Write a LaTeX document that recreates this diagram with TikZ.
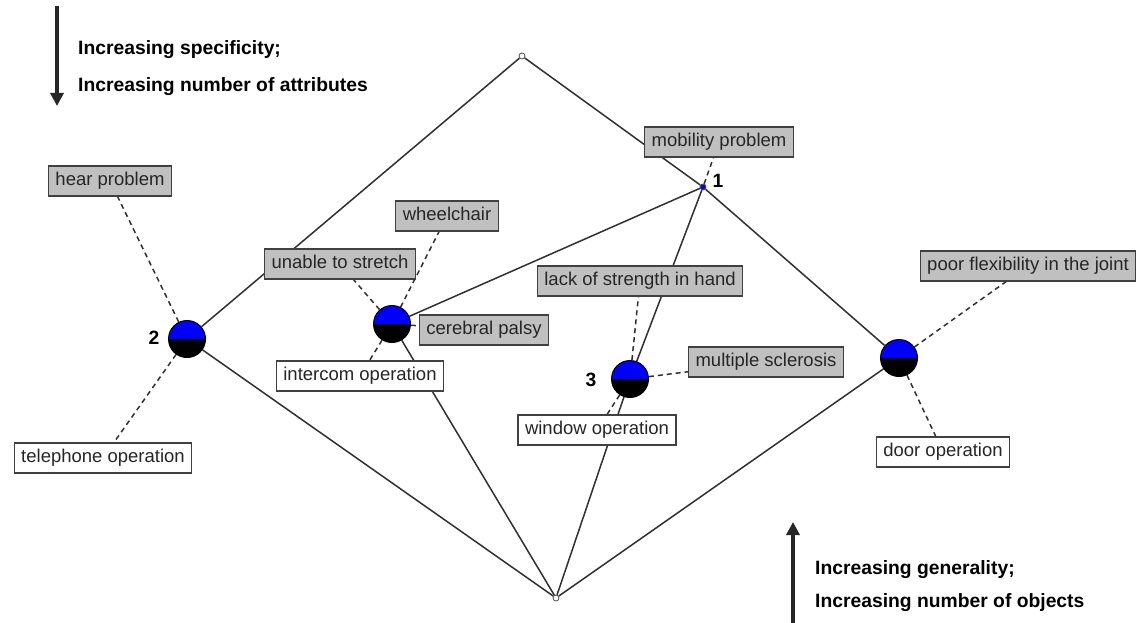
\documentclass[tikz,border=0pt]{standalone}
\usepackage{fontspec}
\setmainfont{Liberation Sans}
\usetikzlibrary{arrows.meta}
\pgfdeclarelayer{background}
\pgfsetlayers{background,main}

\definecolor{boxgray}{RGB}{192,192,192}
\definecolor{edgegray}{RGB}{48,48,48}
\definecolor{conceptblue}{RGB}{0,0,255}

\begin{document}
\begin{tikzpicture}[x=1pt,y=-1pt,
  attr/.style={draw=black!75, fill=boxgray, line width=1.3pt, inner xsep=7pt, inner ysep=0pt,
    minimum height=30pt, text height=13pt, text depth=4pt,
    font=\fontsize{18.5}{20}\selectfont, text=black!85},
  obj/.style={attr, fill=white},
  concept/.style={circle, draw=black, line width=1pt, minimum size=37pt, inner sep=0pt,
    path picture={
      \fill[conceptblue] (path picture bounding box.north west) rectangle (path picture bounding box.east);
      \fill[black] (path picture bounding box.west) rectangle (path picture bounding box.south east);
    }},
  dot/.style={circle, draw=black!70, fill=white, line width=0.8pt, minimum size=6pt, inner sep=0pt},
  edge/.style={draw=edgegray, line width=1.5pt},
  link/.style={draw=edgegray, line width=1.5pt, dash pattern=on 5pt off 4pt},
  caption/.style={anchor=west, font=\bfseries\fontsize{19.3}{22}\selectfont, inner sep=0pt},
  num/.style={font=\bfseries\fontsize{19.3}{22}\selectfont, inner sep=0pt},
  dirarrow/.style={draw=black!85, line width=3.2pt, -{Triangle[length=13pt,width=13pt]}}
]
\useasboundingbox (0,0) rectangle (1141,623);

% lattice concepts
\node[dot] (top) at (522,56) {};
\node[dot] (bot) at (556,598) {};
\node[dot, fill=conceptblue] (c1) at (703,187) {};
\node[concept] (c2) at (187,339) {};
\node[concept] (cp) at (392,324) {};
\node[concept] (c3) at (630,379) {};
\node[concept] (cd) at (899,358) {};

% attribute labels
\node[attr] (mob) at (719,142) {mobility problem};
\node[attr] (hear) at (110,181) {hear problem};
\node[attr] (wheel) at (447,216) {wheelchair};
\node[attr] (stretch) at (340,264) {unable to stretch};
\node[attr] (palsy) at (484,330) {cerebral palsy};
\node[attr] (hand) at (640,281) {lack of strength in hand};
\node[attr] (ms) at (766,362) {multiple sclerosis};
\node[attr] (joint) at (1028,266) {poor flexibility in the joint};

% object labels
\node[obj] (tel) at (103,458) {telephone operation};
\node[obj] (icom) at (360,376) {intercom operation};
\node[obj] (win) at (597,430) {window operation};
\node[obj] (door) at (943,452) {door operation};

% concept numbers
\node[num] (n1) at (718,181) {1};
\node[num] (n2) at (154,338) {2};
\node[num] (n3) at (591,380) {3};

\begin{pgfonlayer}{background}
  \fill[white] (0,0) rectangle (1141,623);
  % lattice edges
  \draw[edge] (top) -- (c2);
  \draw[edge] (top) -- (c1);
  \draw[edge] (c1) -- (cd);
  \draw[edge] (c1) -- (cp);
  \draw[edge] (c1) -- (c3);
  \draw[edge] (c2) -- (bot);
  \draw[edge] (cp) -- (bot);
  \draw[edge] (c3) -- (bot);
  \draw[edge] (cd) -- (bot);
  % label links
  \draw[link] (c1) -- (mob);
  \draw[link] (c2) -- (hear);
  \draw[link] (c2) -- (tel);
  \draw[link] (cp) -- (stretch);
  \draw[link] (cp) -- (wheel);
  \draw[link] (cp) -- (palsy);
  \draw[link] (cp) -- (icom);
  \draw[link] (c3) -- (hand);
  \draw[link] (c3) -- (ms);
  \draw[link] (c3) -- (win);
  \draw[link] (cd) -- (joint);
  \draw[link] (cd) -- (door);
\end{pgfonlayer}

% direction arrows
\coordinate (downS) at (57,6);
\coordinate (downE) at (57,106);
\draw[dirarrow] (downS) -- (downE);
\node[caption] (spec) at (78,50) {Increasing specificity;};
\node[caption] (attrs) at (78,87) {Increasing number of attributes};

\coordinate (upS) at (793,623);
\coordinate (upE) at (793,522);
\draw[dirarrow] (upS) -- (upE);
\node[caption] (gen) at (815,570) {Increasing generality;};
\node[caption] (objs) at (815,603) {Increasing number of objects};
\end{tikzpicture}
\end{document}
